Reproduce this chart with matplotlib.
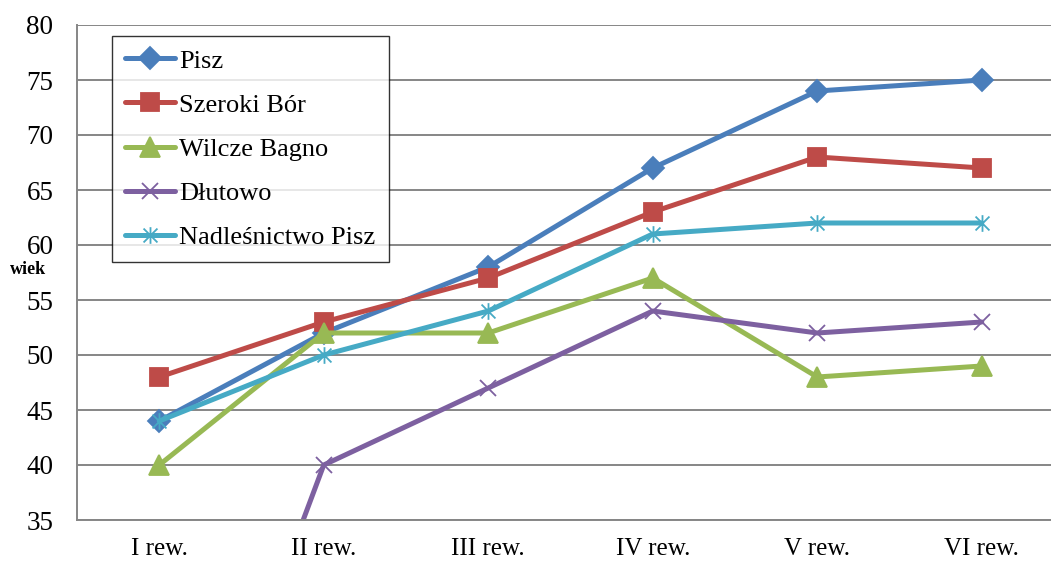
import matplotlib.pyplot as plt
from matplotlib.path import Path

# data
categories = ["I rew.", "II rew.", "III rew.", "IV rew.", "V rew.", "VI rew."]
pisz = [44, 52, 58, 67, 74, 75]
szeroki_bor = [48, 53, 57, 63, 68, 67]
wilcze_bagno = [40, 52, 52, 57, 48, 49]
dlutowo = [0, 40, 47, 54, 52, 53]
nadlesnictwo = [44, 50, 54, 61, 62, 62]

plt.rcParams["font.family"] = ["Liberation Serif", "DejaVu Serif"]

# excel-like star marker: x plus vertical bar
star = Path(
    [(-1, -1), (1, 1), (-1, 1), (1, -1), (0, -1.2), (0, 1.2)],
    [Path.MOVETO, Path.LINETO, Path.MOVETO, Path.LINETO, Path.MOVETO, Path.LINETO],
)

series = [
    ("Pisz", pisz, "#4A7EBB", "D", 11),
    ("Szeroki Bór", szeroki_bor, "#BE4B48", "s", 13),
    ("Wilcze Bagno", wilcze_bagno, "#98B954", "^", 14),
    ("Dłutowo", dlutowo, "#7D60A0", "x", 12),
    ("Nadleśnictwo Pisz", nadlesnictwo, "#46AAC5", star, 12),
]

fig = plt.figure(figsize=(10.51, 5.61), dpi=100)
ax = fig.add_axes([77 / 1051, 1 - 520 / 561, 987 / 1051, 495 / 561])

x = list(range(len(categories)))
for name, vals, color, marker, ms in series:
    ax.plot(x, vals, color=color, lw=3.6, marker=marker, markersize=ms,
            markerfacecolor=color, markeredgecolor=color, markeredgewidth=1.3,
            label=name, solid_capstyle="round")

ax.set_xlim(-0.5, 5.5)
ax.set_ylim(35, 80)
ax.set_yticks(range(35, 81, 5))
ax.set_xticks(x)
ax.set_xticklabels(categories)
ax.grid(axis="y", color="#868686", lw=1.4)
ax.set_axisbelow(True)
for side in ["top", "right"]:
    ax.spines[side].set_visible(False)
ax.spines["left"].set_color("#868686")
ax.spines["bottom"].set_color("#868686")
ax.spines["left"].set_linewidth(1.4)
ax.spines["bottom"].set_linewidth(1.4)
ax.tick_params(axis="y", length=0, pad=17, labelsize=19.5)
ax.tick_params(axis="x", length=0, pad=13, labelsize=18)

leg = ax.legend(loc="upper left", bbox_to_anchor=(35 / 987, 1 - 11 / 495),
                fontsize=19, frameon=True, fancybox=False, handlelength=1.9,
                labelspacing=0.78, borderpad=0.5, handletextpad=0.15,
                borderaxespad=0)
leg.get_frame().set_edgecolor("black")
leg.get_frame().set_linewidth(1.0)

fig.text(10 / 1051, 1 - 270 / 561, "wiek", fontsize=13, fontweight="bold",
         va="center", ha="left")

fig.savefig("out.png", dpi=100)
